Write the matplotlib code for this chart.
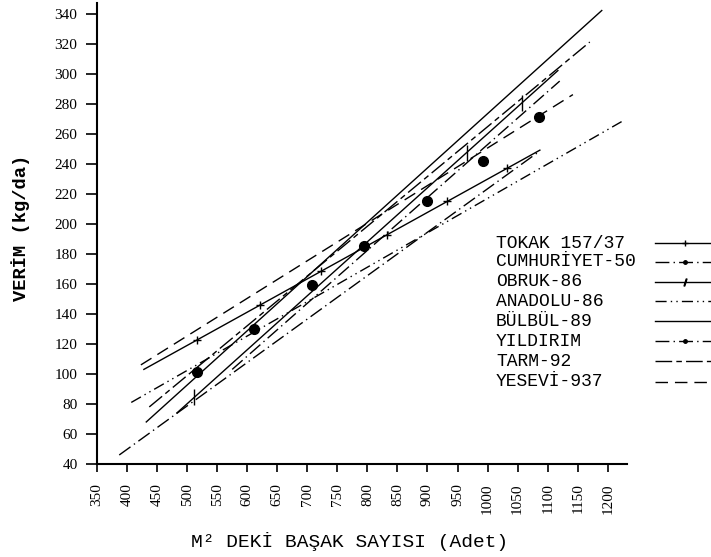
import numpy as np
import matplotlib
matplotlib.use("Agg")
import matplotlib.pyplot as plt
from matplotlib.lines import Line2D

# regression lines of each variety
varieties = ["TOKAK 157/37", "CUMHURİYET-50", "OBRUK-86", "ANADOLU-86",
             "BÜLBÜL-89", "YILDIRIM", "TARM-92", "YESEVİ-937"]
x_start = [428, 387, 483, 407, 432, 575, 437, 423]
y_start = [103, 46, 74, 81, 68, 103, 78, 106]
x_end = [1087, 1082, 1117, 1223, 1190, 1120, 1170, 1142]
y_end = [249, 247, 302, 268, 342, 295, 321, 286]

# marker positions along TOKAK (+) and OBRUK (/) lines
tokak_marks = [517, 622, 723, 832, 933, 1033]
obruk_marks = [512, 965, 1057]

# mean points (black dots)
mean_x = [517, 612, 708, 795, 900, 992, 1085]
mean_y = [101, 130, 159, 185, 215, 242, 271]

x_ticks = list(range(350, 1201, 50))
y_ticks = list(range(40, 341, 20))

styles = ["-", (0, (10, 3, 1, 3)), "-", (0, (8, 3, 1, 3, 1, 3)),
          "-", (0, (10, 3, 1, 3)), (0, (12, 3, 4, 3)), (0, (9, 5))]

mono = "Liberation Mono"
serif = "Liberation Serif"

fig = plt.figure(figsize=(7.11, 5.57), dpi=100)
ax = fig.add_axes([97 / 711, 1 - 464 / 557, 530 / 711, 461 / 557])

for i, name in enumerate(varieties):
    ax.plot([x_start[i], x_end[i]], [y_start[i], y_end[i]],
            color="black", lw=1.0, linestyle=styles[i])


def on_line(i, xs):
    b = (y_end[i] - y_start[i]) / (x_end[i] - x_start[i])
    return [y_start[i] + b * (x - x_start[i]) for x in xs]


ax.plot(tokak_marks, on_line(0, tokak_marks), linestyle="none",
        marker="+", ms=6, mew=1.0, color="black")
ax.plot(obruk_marks, on_line(2, obruk_marks), linestyle="none",
        marker="|", ms=12, mew=1.0, color="black")
ax.plot(mean_x, mean_y, linestyle="none", marker="o", ms=7, color="black")

ax.set_xlim(350, 1232)
ax.set_ylim(40, 347)
ax.spines["top"].set_visible(False)
ax.spines["right"].set_visible(False)
ax.spines["left"].set_linewidth(1.5)
ax.spines["bottom"].set_linewidth(1.5)

ax.set_xticks(x_ticks)
ax.set_xticklabels([str(v) for v in x_ticks], rotation=90,
                   fontfamily=serif, fontsize=11)
ax.set_yticks(y_ticks)
ax.set_yticklabels([str(v) for v in y_ticks], fontfamily=serif, fontsize=11)
ax.tick_params(axis="y", direction="out", length=8, width=1.2, pad=6)
ax.tick_params(axis="x", direction="out", length=6, width=1.2, pad=8)

ax.set_ylabel("VERİM (kg/da)", fontfamily=mono, fontsize=13.5,
              fontweight="bold")
ax.yaxis.set_label_coords(-0.126, 0.512)
ax.set_xlabel("M² DEKİ BAŞAK SAYISI (Adet)", fontfamily=mono, fontsize=14)
ax.xaxis.set_label_coords(0.477, -0.147)

# hand made legend at the right edge, partly cut off like the scan
row_y = [243, 262, 282, 301, 321, 341, 361, 382]
legend_marks = ["+", ".", "$/$", None, None, ".", None, None]
for i, name in enumerate(varieties):
    fy = 1 - row_y[i] / 557
    fig.text(496 / 711, fy, name, fontfamily=mono, fontsize=13,
             va="center", ha="left")
    fig.add_artist(Line2D([655 / 711, 1.05], [fy, fy], color="black",
                          lw=1.0, linestyle=styles[i],
                          transform=fig.transFigure))
    if legend_marks[i]:
        fig.add_artist(Line2D([685 / 711], [fy], color="black",
                              marker=legend_marks[i], ms=5, linestyle="none",
                              transform=fig.transFigure))

fig.savefig("out.png", dpi=100)
